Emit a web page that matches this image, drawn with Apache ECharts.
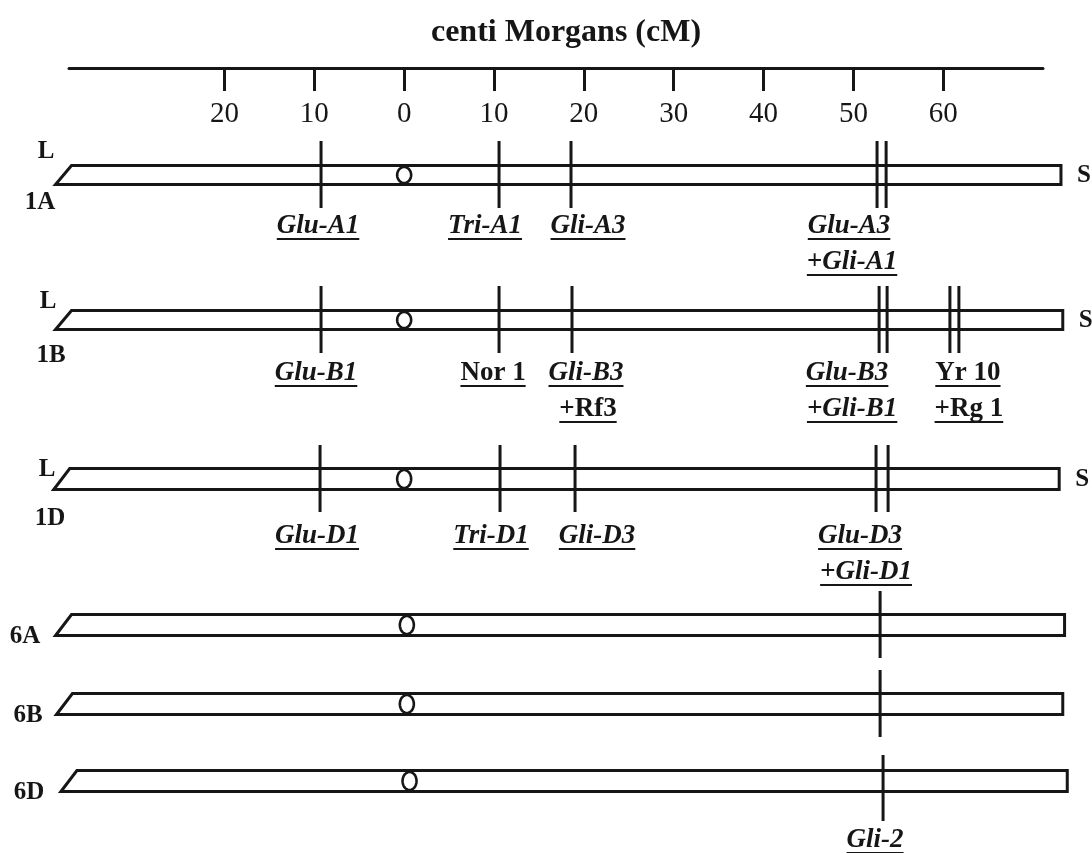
<!DOCTYPE html>
<html>
<head>
<meta charset="utf-8">
<script src="https://cdn.jsdelivr.net/npm/echarts@6/dist/echarts.min.js"></script>
<style>
html,body{margin:0;padding:0;background:#fff;}
#chart{width:1092px;height:853px;}
</style>
</head>
<body>
<div id="chart"></div>
<script>
// ================= DATA =================
const axisTitle = 'centi Morgans (cM)';
const tickValues = [-20, -10, 0, 10, 20, 30, 40, 50, 60];   // shown as absolute distances
const chromosomes = ['1A', '1B', '1D', '6A', '6B', '6D'];
const armStart = [-38.8, -38.8, -39.0, -38.8, -38.7, -38.2]; // long-arm end (cM)
const armEnd = [73.1, 73.3, 72.9, 73.5, 73.3, 73.8];         // short-arm end (cM)
const centromere = [0, 0, 0, 0.3, 0.3, 0.6];
const longArmLabel = 'L';
const shortArmLabel = 'S';
const armLabelRows = [0, 1, 2];

// loci (vertical bars)
const locusChr = [0, 0, 0, 0, 0, 1, 1, 1, 1, 1, 1, 1, 2, 2, 2, 2, 2, 3, 4, 5];
const locusPos = [-9.25, 10.56, 18.57, 52.63, 53.64,
                  -9.25, 10.56, 18.68, 52.86, 53.75, 60.74, 61.74,
                  -9.36, 10.67, 19.02, 52.52, 53.86,
                  52.97, 52.97, 53.30];

// locus names
const labelText = ['Glu-A1', 'Tri-A1', 'Gli-A3', 'Glu-A3', '+Gli-A1',
                   'Glu-B1', 'Nor 1', 'Gli-B3', '+Rf3', 'Glu-B3', '+Gli-B1', 'Yr 10', '+Rg 1',
                   'Glu-D1', 'Tri-D1', 'Gli-D3', 'Glu-D3', '+Gli-D1',
                   'Gli-2'];
const labelLocus = [0, 1, 2, 3, 3, 5, 6, 7, 7, 8, 8, 10, 10, 12, 13, 14, 15, 15, 19];
const labelLine = [0, 0, 0, 0, 1, 0, 0, 0, 1, 0, 1, 0, 1, 0, 0, 0, 0, 1, 0];
const labelItalic = [1, 1, 1, 1, 1, 1, 0, 1, 0, 1, 1, 0, 0, 1, 1, 1, 1, 1, 1];

// ================= LAYOUT / STYLE =================
const ink = '#161616';
const serif = '"Liberation Serif", "Times New Roman", serif';
const gridTop = 68, gridLeft = 69, gridRight = 49;
const yMax = 853 - gridTop;
const rowY = [107, 252, 411, 557, 636, 713];          // row centre, px below axis line
const rowThick = [19, 19, 21, 21, 21, 21];
const slant = 16;
const markerUp = [34, 34, 34, 34, 34, 26];
const markerDown = [33, 33, 33, 33, 33, 40];
const labelOffset = [51, 53, 57, 0, 0, 59];
const lineGap = 36;
const labelDx = [-3, -14, 17, -28, -25, -5, -6, 14, 16, -32, -27, 18, 19, -3, -9, 22, -16, -10, -8];
const lLabelPos = [[46, -23], [48, -18], [47, -9]];
const nameX = [40, 51, 50, 25, 28, 29];
const nameDy = [28, 36, 40, 12, 12, 12];

const mctx = document.createElement('canvas').getContext('2d');
function textWidth(font, t) { mctx.font = font; return mctx.measureText(t).width; }

function txt(text, x, y, font, align) {
  return {
    type: 'text',
    style: {
      text: text, x: x, y: y, font: font,
      fill: ink, textFill: ink,
      align: align || 'center', textAlign: align || 'center',
      verticalAlign: 'middle', textVerticalAlign: 'middle'
    }
  };
}

const chart = echarts.init(document.getElementById('chart'), null, {renderer: 'canvas'});

const option = {
  animation: false,
  backgroundColor: '#ffffff',
  grid: {top: gridTop, left: gridLeft, right: gridRight, bottom: 0, containLabel: false},
  xAxis: {
    type: 'value',
    position: 'top',
    min: -37.3,
    max: 71.1,
    axisLine: {show: true, lineStyle: {color: ink, width: 3}},
    axisTick: {show: true, inside: true, length: 23, customValues: tickValues,
               lineStyle: {color: ink, width: 3}},
    axisLabel: {show: true, inside: true, margin: 46, customValues: tickValues,
                verticalAlign: 'middle',
                formatter: v => String(Math.abs(v)),
                fontFamily: serif, fontSize: 29, color: ink},
    splitLine: {show: false}
  },
  yAxis: {type: 'value', min: 0, max: yMax, inverse: true, show: false},
  graphic: [{
    type: 'text', x: 566, y: 33,
    style: {text: axisTitle, font: 'bold 32px ' + serif, fill: ink,
            align: 'center', verticalAlign: 'middle'}
  }],
  series: [
    {
      type: 'custom',
      name: 'chromosomes',
      clip: false,
      z: 2,
      data: chromosomes.map((c, i) => [armStart[i], armEnd[i], centromere[i], rowY[i]]),
      renderItem: function (params, api) {
        const i = params.dataIndex;
        const yc = api.coord([0, rowY[i]])[1];
        const xs = api.coord([armStart[i], rowY[i]])[0];
        const xe = api.coord([armEnd[i], rowY[i]])[0];
        const xc = api.coord([centromere[i], rowY[i]])[0];
        const h = rowThick[i] / 2;
        const top = yc - h, bot = yc + h;
        const children = [];
        children.push({
          type: 'polygon',
          shape: {points: [[xs + slant, top], [xe, top], [xe, bot], [xs, bot]]},
          style: {fill: '#ffffff', stroke: ink, lineWidth: 3, lineJoin: 'miter'}
        });
        const pts = [];
        const rx = 7, ry = h - 1.5;
        for (let k = 0; k < 48; k++) {
          const a = k / 48 * Math.PI * 2;
          pts.push([xc + rx * Math.cos(a), yc + ry * Math.sin(a)]);
        }
        children.push({type: 'polygon', shape: {points: pts},
                       style: {fill: '#ffffff', stroke: ink, lineWidth: 2.6}});
        const rowFont = 'bold 25px ' + serif;
        children.push(txt(chromosomes[i], nameX[i], yc + nameDy[i], rowFont));
        const li = armLabelRows.indexOf(i);
        if (li >= 0) {
          children.push(txt(longArmLabel, lLabelPos[li][0], yc + lLabelPos[li][1], rowFont));
          children.push(txt(shortArmLabel, xe + 23, yc + 1, rowFont));
        }
        return {type: 'group', children: children};
      }
    },
    {
      type: 'custom',
      name: 'loci',
      clip: false,
      z: 3,
      data: locusPos.map((p, k) => [p, rowY[locusChr[k]]]),
      renderItem: function (params, api) {
        const k = params.dataIndex;
        const r = locusChr[k];
        const p = api.coord([locusPos[k], rowY[r]]);
        return {
          type: 'line',
          shape: {x1: p[0], y1: p[1] - markerUp[r], x2: p[0], y2: p[1] + markerDown[r]},
          style: {stroke: ink, lineWidth: 3}
        };
      }
    },
    {
      type: 'custom',
      name: 'locus names',
      clip: false,
      z: 4,
      data: labelText.map((t, j) => [locusPos[labelLocus[j]], rowY[locusChr[labelLocus[j]]]]),
      renderItem: function (params, api) {
        const j = params.dataIndex;
        const k = labelLocus[j];
        const r = locusChr[k];
        const p = api.coord([locusPos[k], rowY[r]]);
        const x = p[0] + labelDx[j];
        const y = p[1] + labelOffset[r] + labelLine[j] * lineGap;
        const font = (labelItalic[j] ? 'italic ' : '') + 'bold 27px ' + serif;
        const w = textWidth(font, labelText[j]);
        return {
          type: 'group',
          children: [
            txt(labelText[j], x, y, font),
            {type: 'line', shape: {x1: x - w / 2, y1: y + 13, x2: x + w / 2, y2: y + 13},
             style: {stroke: ink, lineWidth: 2}}
          ]
        };
      }
    }
  ]
};
chart.setOption(option);
</script>
</body>
</html>
